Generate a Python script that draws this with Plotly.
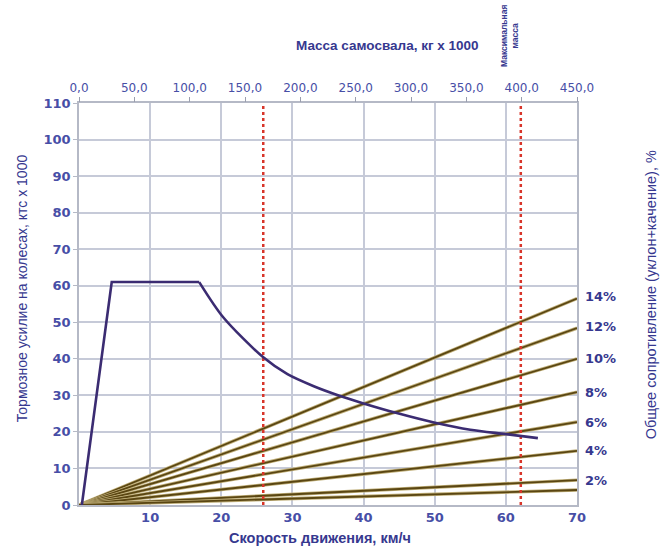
import plotly.graph_objects as go

# --- data ---
speed_ticks = [10, 20, 30, 40, 50, 60, 70]
force_ticks = [0, 10, 20, 30, 40, 50, 60, 70, 80, 90, 100, 110]
mass_ticks = [0, 50, 100, 150, 200, 250, 300, 350, 400, 450]
mass_labels = ["0,0", "50,0", "100,0", "150,0", "200,0", "250,0", "300,0", "350,0", "400,0", "450,0"]

brake_speed = [0.4, 4.6, 16.9, 20.3, 25.9, 29.3, 33.0, 36.6, 40.0, 44.8, 49.9, 55.0, 60.0, 64.5]
brake_force = [0.0, 61.0, 61.0, 51.3, 40.4, 35.8, 32.5, 29.9, 27.8, 25.1, 22.6, 20.6, 19.4, 18.3]

grade_labels = ["14%", "12%", "10%", "8%", "6%", "4%", "2%", ""]
grade_end_force = [56.5, 48.4, 40.0, 30.9, 22.7, 14.8, 6.8, 4.1]
grade_speed_range = [0, 70]

marker_speeds = [25.9, 62.1]

BLUE = "#36388f"
TICKBLUE = "#474ea6"
GRID = "#c6cad8"

fig = go.Figure()

# resistance lines
for lab, v in zip(grade_labels, grade_end_force):
    fig.add_trace(go.Scatter(x=grade_speed_range, y=[0, v], mode="lines",
                             line=dict(color="#bfae78", width=3.4),
                             hoverinfo="skip", showlegend=False))
    fig.add_trace(go.Scatter(x=grade_speed_range, y=[0, v], mode="lines",
                             line=dict(color="#5a4612", width=1.8),
                             showlegend=False))
    if lab:
        fig.add_annotation(x=70, y=v, xref="x", yref="y", text=lab, showarrow=False,
                           xanchor="left", xshift=6, yshift=(v - 35) / 10 if v > 40 else 0,
                           yanchor="middle",
                           font=dict(family="DejaVu Sans", size=13, color=BLUE, weight="bold"))

# red dotted markers
for s in marker_speeds:
    fig.add_trace(go.Scatter(x=[s, s], y=[0, 110], mode="lines",
                             line=dict(color="#d8352a", width=2.5, dash="dot"),
                             showlegend=False))

# braking curve: straight rise + plateau, then smooth decay
fig.add_trace(go.Scatter(x=brake_speed[:3], y=brake_force[:3], mode="lines",
                         line=dict(color="#3b2c72", width=2.6), showlegend=False))
fig.add_trace(go.Scatter(x=brake_speed[2:], y=brake_force[2:], mode="lines",
                         line=dict(color="#3b2c72", width=2.6, shape="spline", smoothing=0.8),
                         showlegend=False))

# invisible trace for top axis
fig.add_trace(go.Scatter(x=[mass_ticks[0], mass_ticks[-1]], y=[0, 0], xaxis="x2",
                         mode="markers", marker=dict(opacity=0), hoverinfo="skip",
                         showlegend=False))

fig.update_layout(
    width=661, height=549,
    margin=dict(l=79, r=84, t=103, b=44),
    paper_bgcolor="white", plot_bgcolor="white",
    xaxis=dict(range=[0, 70], tickvals=speed_ticks, showgrid=True, gridcolor=GRID,
               gridwidth=1.6, zeroline=False, showline=True, linecolor="#b5b9c6",
               linewidth=1.5, mirror=True, ticks="",
               tickfont=dict(family="DejaVu Sans", size=13, color=TICKBLUE, weight="bold")),
    yaxis=dict(range=[0, 110], tickvals=force_ticks, showgrid=True, gridcolor=GRID,
               gridwidth=1.6, zeroline=False, showline=True, linecolor="#b5b9c6",
               linewidth=1.5, mirror=True, ticks="outside", ticklen=4, tickcolor="#b5b9c6",
               tickfont=dict(family="DejaVu Sans", size=13, color=TICKBLUE, weight="bold")),
    xaxis2=dict(range=[0, 450], overlaying="x", side="top", tickvals=mass_ticks,
                ticktext=mass_labels, showgrid=False, zeroline=False, ticks="outside",
                ticklen=5, tickcolor="#9a9eae", showline=False,
                tickfont=dict(family="DejaVu Sans", size=12, color=TICKBLUE)),
)

annos = [
    dict(text="Масса самосвала, кг x 1000", x=0.62, y=1.144, size=13.5, bold=True, angle=0),
    dict(text="Скорость движения, км/ч", x=0.484, y=-0.082, size=14.5, bold=True, angle=0),
    dict(text="Тормозное усилие на колесах, ктс x 1000", x=-0.114, y=0.54, size=14, bold=False, angle=-90),
    dict(text="Общее сопротивление (уклон+качение), %", x=1.149, y=0.522, size=14.5, bold=False, angle=-90),
]
for a in annos:
    fig.add_annotation(text=a["text"], x=a["x"], y=a["y"], xref="paper", yref="paper",
                       showarrow=False, xanchor="center", yanchor="middle", textangle=a["angle"],
                       font=dict(family="Liberation Sans", size=a["size"], color=BLUE,
                                 weight="bold" if a["bold"] else "normal"))

fig.add_annotation(text="Максимальная<br>масса", x=60.6, y=1.167, xref="x", yref="paper",
                   showarrow=False, textangle=-90, xanchor="center", yanchor="middle",
                   font=dict(family="Liberation Sans", size=8.5, color=BLUE, weight="bold"))

fig.write_html("out.html")
